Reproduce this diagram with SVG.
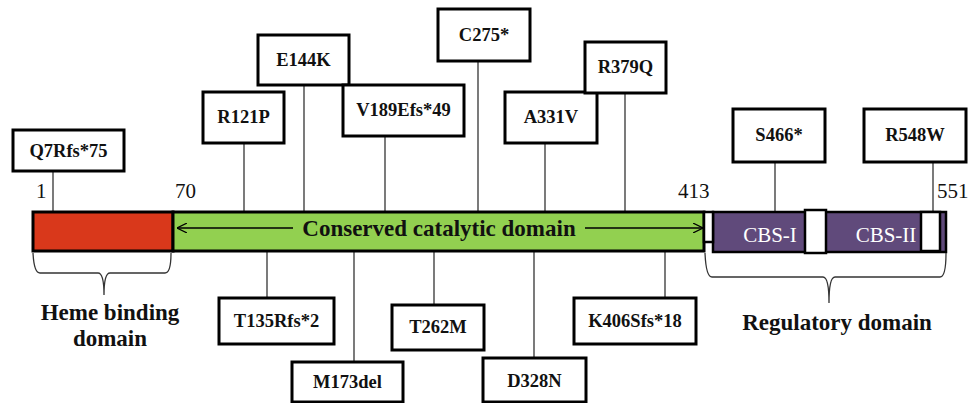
<svg xmlns="http://www.w3.org/2000/svg" width="975" height="403" viewBox="0 0 975 403">
<style>
.box{fill:#fff;stroke:#000;stroke-width:3}
.lbl{font-family:'Liberation Serif','Times New Roman','DejaVu Serif',serif;font-weight:bold;font-size:18.5px;text-anchor:middle;fill:#111}
.num{font-family:'Liberation Serif','Times New Roman','DejaVu Serif',serif;font-size:21px;fill:#111}
.ln{stroke:#333;stroke-width:1.3;fill:none}
.dom{font-family:'Liberation Serif','Times New Roman','DejaVu Serif',serif;font-weight:bold;font-size:23px;text-anchor:middle;fill:#111}
.cbs{font-family:'Liberation Serif','Times New Roman','DejaVu Serif',serif;font-size:21px;text-anchor:middle;fill:#fff}
</style>
<defs>
<marker id="ah" viewBox="0 0 10 10" refX="10" refY="5" markerWidth="10" markerHeight="10" markerUnits="userSpaceOnUse" orient="auto-start-reverse">
<path d="M0,0 L10,5 L0,10" fill="none" stroke="#000" stroke-width="1.2"/>
</marker>
</defs>
<g id="connectors">
<line class="ln" x1="53" y1="171" x2="53" y2="211"/>
<line class="ln" x1="244" y1="143" x2="244" y2="211"/>
<line class="ln" x1="304" y1="85" x2="304" y2="211"/>
<line class="ln" x1="385" y1="136" x2="385" y2="211"/>
<line class="ln" x1="478" y1="61" x2="478" y2="211"/>
<line class="ln" x1="545" y1="143" x2="545" y2="211"/>
<line class="ln" x1="625" y1="93" x2="625" y2="211"/>
<line class="ln" x1="775" y1="162" x2="775" y2="211"/>
<line class="ln" x1="933" y1="162" x2="933" y2="211"/>
<line class="ln" x1="267" y1="252" x2="267" y2="298"/>
<line class="ln" x1="354" y1="252" x2="354" y2="362"/>
<line class="ln" x1="434" y1="252" x2="434" y2="305"/>
<line class="ln" x1="534" y1="252" x2="534" y2="358"/>
<line class="ln" x1="665" y1="252" x2="665" y2="298"/>
</g>
<g id="protein-bar">
<rect x="33" y="212" width="140" height="39" fill="#d9381b" stroke="#000" stroke-width="3"/>
<rect x="173" y="212" width="531" height="39" fill="#92d050" stroke="#000" stroke-width="3"/>
<rect x="713" y="212" width="233" height="40" fill="#604a7b" stroke="#000" stroke-width="2.5"/>
<rect x="704" y="212" width="9" height="30" fill="#fff" stroke="#000" stroke-width="2.5"/>
<rect x="805" y="210" width="21" height="43" fill="#fff" stroke="#000" stroke-width="2.5"/>
<rect x="921" y="212" width="19" height="39" fill="#fff" stroke="#000" stroke-width="2.5"/>
<line x1="293" y1="228" x2="177" y2="228" stroke="#000" stroke-width="1.3" marker-end="url(#ah)"/>
<line x1="585" y1="228" x2="703" y2="228" stroke="#000" stroke-width="1.3" marker-end="url(#ah)"/>
<text class="dom" x="439" y="236">Conserved catalytic domain</text>
<text class="cbs" x="770" y="242">CBS-I</text>
<text class="cbs" x="886" y="242">CBS-II</text>
</g>
<g id="numbers">
<text class="num" x="36" y="198">1</text>
<text class="num" x="175" y="198">70</text>
<text class="num" x="678" y="198">413</text>
<text class="num" x="937" y="198">551</text>
</g>
<g id="heme-brace">
<path class="ln" d="M33,253 Q34,273 40,273 L98,273 Q104,273 104,295 Q104,273 110,273 L165,273 Q171,273 171,253"/>
<text class="dom" x="110" y="320">Heme binding</text>
<text class="dom" x="110" y="346">domain</text>
</g>
<g id="regulatory-brace">
<path class="ln" d="M705,253 Q706,277 712,277 L823,277 Q829,277 829,303 Q829,277 835,277 L940,277 Q946,277 946,253"/>
<text class="dom" x="837" y="330">Regulatory domain</text>
</g>
<g id="Q7Rfs75"><rect class="box" x="13" y="130" width="111" height="41"/><text class="lbl" x="68.5" y="157">Q7Rfs*75</text></g>
<g id="R121P"><rect class="box" x="203" y="92" width="81" height="51"/><text class="lbl" x="243.5" y="123">R121P</text></g>
<g id="E144K"><rect class="box" x="258" y="35" width="91" height="50"/><text class="lbl" x="303.5" y="66">E144K</text></g>
<g id="V189Efs49"><rect class="box" x="343" y="85" width="121" height="51"/><text class="lbl" x="403.5" y="116">V189Efs*49</text></g>
<g id="C275"><rect class="box" x="438" y="9" width="92" height="52"/><text class="lbl" x="484" y="41">C275*</text></g>
<g id="A331V"><rect class="box" x="505" y="92" width="92" height="51"/><text class="lbl" x="551" y="123">A331V</text></g>
<g id="R379Q"><rect class="box" x="585" y="42" width="81" height="51"/><text class="lbl" x="625.5" y="73">R379Q</text></g>
<g id="S466"><rect class="box" x="733" y="109" width="92" height="53"/><text class="lbl" x="779" y="141">S466*</text></g>
<g id="R548W"><rect class="box" x="864" y="109" width="102" height="53"/><text class="lbl" x="915" y="141">R548W</text></g>
<g id="T135Rfs2"><rect class="box" x="219" y="298" width="115" height="46"/><text class="lbl" x="276.5" y="327">T135Rfs*2</text></g>
<g id="M173del"><rect class="box" x="292" y="362" width="111" height="40"/><text class="lbl" x="347.5" y="388">M173del</text></g>
<g id="T262M"><rect class="box" x="392" y="305" width="92" height="45"/><text class="lbl" x="438" y="333">T262M</text></g>
<g id="D328N"><rect class="box" x="483" y="358" width="103" height="44"/><text class="lbl" x="534.5" y="387">D328N</text></g>
<g id="K406Sfs18"><rect class="box" x="574" y="298" width="122" height="46"/><text class="lbl" x="635" y="327">K406Sfs*18</text></g>
</svg>
